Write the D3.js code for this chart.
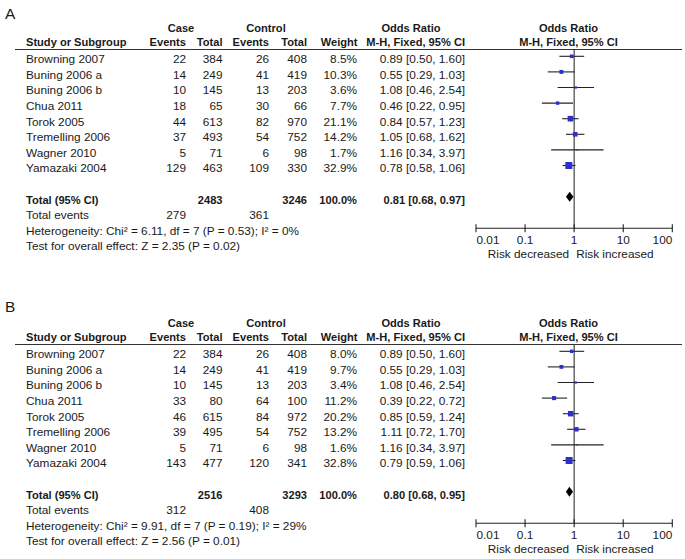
<!DOCTYPE html>
<html>
<head>
<meta charset="utf-8">
<script src="https://cdn.jsdelivr.net/npm/d3@7/dist/d3.min.js"></script>
<style>
  html, body { margin: 0; padding: 0; background: #fff; }
  svg { display: block; }
  text { font-family: "Liberation Sans", Arial, sans-serif; fill: #1a1a1a; }
</style>
</head>
<body>
<svg id="chart" width="685" height="559"></svg>
<script>
// ---------- DATA ----------
const studies = ["Browning 2007", "Buning 2006 a", "Buning 2006 b", "Chua 2011",
                 "Torok 2005", "Tremelling 2006", "Wagner 2010", "Yamazaki 2004"];
const panelLabels = ["A", "B"];

// Panel A
const aCaseEvents = [22, 14, 10, 18, 44, 37, 5, 129];
const aCaseTotal  = [384, 249, 145, 65, 613, 493, 71, 463];
const aCtrlEvents = [26, 41, 13, 30, 82, 54, 6, 109];
const aCtrlTotal  = [408, 419, 203, 66, 970, 752, 98, 330];
const aWeight     = [8.5, 10.3, 3.6, 7.7, 21.1, 14.2, 1.7, 32.9];
const aOR         = [0.89, 0.55, 1.08, 0.46, 0.84, 1.05, 1.16, 0.78];
const aLow        = [0.50, 0.29, 0.46, 0.22, 0.57, 0.68, 0.34, 0.58];
const aHigh       = [1.60, 1.03, 2.54, 0.95, 1.23, 1.62, 3.97, 1.06];
const aTotals     = {caseTotal: 2483, ctrlTotal: 3246, caseEvents: 279, ctrlEvents: 361,
                     or: 0.81, low: 0.68, high: 0.97,
                     het: "Heterogeneity: Chi² = 6.11, df = 7 (P = 0.53); I² = 0%",
                     test: "Test for overall effect: Z = 2.35 (P = 0.02)"};

// Panel B
const bCaseEvents = [22, 14, 10, 33, 46, 39, 5, 143];
const bCaseTotal  = [384, 249, 145, 80, 615, 495, 71, 477];
const bCtrlEvents = [26, 41, 13, 64, 84, 54, 6, 120];
const bCtrlTotal  = [408, 419, 203, 100, 972, 752, 98, 341];
const bWeight     = [8.0, 9.7, 3.4, 11.2, 20.2, 13.2, 1.6, 32.8];
const bOR         = [0.89, 0.55, 1.08, 0.39, 0.85, 1.11, 1.16, 0.79];
const bLow        = [0.50, 0.29, 0.46, 0.22, 0.59, 0.72, 0.34, 0.59];
const bHigh       = [1.60, 1.03, 2.54, 0.72, 1.24, 1.70, 3.97, 1.06];
const bTotals     = {caseTotal: 2516, ctrlTotal: 3293, caseEvents: 312, ctrlEvents: 408,
                     or: 0.80, low: 0.68, high: 0.95,
                     het: "Heterogeneity: Chi² = 9.91, df = 7 (P = 0.19); I² = 29%",
                     test: "Test for overall effect: Z = 2.56 (P = 0.01)"};

const axisTicks = [0.01, 0.1, 1, 10, 100];
const axisTickLabels = ["0.01", "0.1", "1", "10", "100"];
const sideLabels = ["Risk decreased", "Risk increased"];

// ---------- DRAW ----------
const svg = d3.select("#chart");
const REG = 11.8, BOLD = 11.1;
const fmtOR = (o, l, h) => `${o.toFixed(2)} [${l.toFixed(2)}, ${h.toFixed(2)}]`;
const x = d3.scaleLog().domain([0.01, 100]).range([476, 672.3]);

const panels = [
  {label: panelLabels[0], ce: aCaseEvents, ct: aCaseTotal, oe: aCtrlEvents, ot: aCtrlTotal,
   w: aWeight, or: aOR, lo: aLow, hi: aHigh, tot: aTotals, dy: 0},
  {label: panelLabels[1], ce: bCaseEvents, ct: bCaseTotal, oe: bCtrlEvents, ot: bCtrlTotal,
   w: bWeight, or: bOR, lo: bLow, hi: bHigh, tot: bTotals, dy: 295}
];

const col = {name: 26, ce: 186, ct: 222.5, oe: 269, ot: 307, w: 357, wh: 357.5, or: 465};

function txt(g, xx, yy, s, anchor, bold, size) {
  return g.append("text").attr("x", xx).attr("y", yy)
    .attr("text-anchor", anchor || "start")
    .attr("font-size", size || (bold ? BOLD : REG))
    .attr("font-weight", bold ? "bold" : "normal")
    .text(s);
}

panels.forEach((p, pi) => {
  const g = svg.append("g").attr("transform", `translate(0,${p.dy})`);
  const rowY = d3.scaleLinear().domain([0, 1]).range([56.3, 71.9]);
  const base = i => rowY(i) + 6.8;

  txt(g, 5, 19.3 - (pi ? 2 : 0), p.label, "start", false, 15.5);

  // headers
  txt(g, 181, 32, "Case", "middle", true);
  txt(g, 266, 32, "Control", "middle", true);
  txt(g, 411, 32, "Odds Ratio", "middle", true);
  txt(g, 568.5, 32, "Odds Ratio", "middle", true);
  const hy = 46.3;
  txt(g, col.name, hy, "Study or Subgroup", "start", true);
  txt(g, col.ce, hy, "Events", "end", true);
  txt(g, col.ct, hy, "Total", "end", true);
  txt(g, col.oe, hy, "Events", "end", true);
  txt(g, col.ot, hy, "Total", "end", true);
  txt(g, col.wh, hy, "Weight", "end", true);
  txt(g, col.or, hy, "M-H, Fixed, 95% CI", "end", true);
  txt(g, 568.5, hy, "M-H, Fixed, 95% CI", "middle", true);

  g.append("line").attr("x1", 15).attr("x2", 682).attr("y1", 49.5).attr("y2", 49.5)
    .attr("stroke", "#333").attr("stroke-width", 1);

  // study rows
  studies.forEach((s, i) => {
    const b = base(i);
    txt(g, col.name, b, s, "start");
    txt(g, col.ce, b, p.ce[i], "end");
    txt(g, col.ct, b, p.ct[i], "end");
    txt(g, col.oe, b, p.oe[i], "end");
    txt(g, col.ot, b, p.ot[i], "end");
    txt(g, col.w, b, p.w[i].toFixed(1) + "%", "end");
    txt(g, col.or, b, fmtOR(p.or[i], p.lo[i], p.hi[i]), "end");
  });

  // total rows
  const tb = base(9);
  txt(g, col.name, tb, "Total (95% CI)", "start", true);
  txt(g, col.ct, tb, p.tot.caseTotal, "end", true);
  txt(g, col.ot, tb, p.tot.ctrlTotal, "end", true);
  txt(g, col.w, tb, "100.0%", "end", true);
  txt(g, col.or, tb, fmtOR(p.tot.or, p.tot.low, p.tot.high), "end", true);
  txt(g, col.name, base(10), "Total events", "start");
  txt(g, col.ce, base(10), p.tot.caseEvents, "end");
  txt(g, col.oe, base(10), p.tot.ctrlEvents, "end");
  txt(g, col.name, base(11), p.tot.het, "start");
  txt(g, col.name, base(12), p.tot.test, "start");

  // forest plot
  const axisY = 228.3;
  g.append("line").attr("x1", x(1)).attr("x2", x(1)).attr("y1", 49.5).attr("y2", axisY)
    .attr("stroke", "#333").attr("stroke-width", 1.1);

  studies.forEach((s, i) => {
    const y = rowY(i);
    g.append("line").attr("x1", x(p.lo[i])).attr("x2", x(p.hi[i]))
      .attr("y1", y).attr("y2", y).attr("stroke", "#222").attr("stroke-width", 1.1);
    const side = 1.22 * Math.sqrt(p.w[i]);
    g.append("rect").attr("x", x(p.or[i]) - side / 2).attr("y", y - side / 2)
      .attr("width", side).attr("height", side).attr("fill", "#2e2ec8");
  });

  const dyT = rowY(9);
  g.append("path")
    .attr("d", `M${x(p.tot.low)},${dyT} L${x(p.tot.or)},${dyT - 5} L${x(p.tot.high)},${dyT} L${x(p.tot.or)},${dyT + 5} Z`)
    .attr("fill", "#000");

  // axis
  g.append("line").attr("x1", x(0.01)).attr("x2", x(100)).attr("y1", axisY).attr("y2", axisY)
    .attr("stroke", "#222").attr("stroke-width", 1.1);
  axisTicks.forEach((t, k) => {
    g.append("line").attr("x1", x(t)).attr("x2", x(t)).attr("y1", axisY - 4).attr("y2", axisY + 4)
      .attr("stroke", "#222").attr("stroke-width", 1.1);
    const anchor = k === 0 ? "start" : (k === axisTicks.length - 1 ? "end" : "middle");
    txt(g, x(t) + (k === 0 ? 0.5 : 0), 244, axisTickLabels[k], anchor);
  });
  txt(g, x(1) - 5, 258, sideLabels[0], "end");
  txt(g, x(1) + 2, 258, sideLabels[1], "start");
});
</script>
</body>
</html>
